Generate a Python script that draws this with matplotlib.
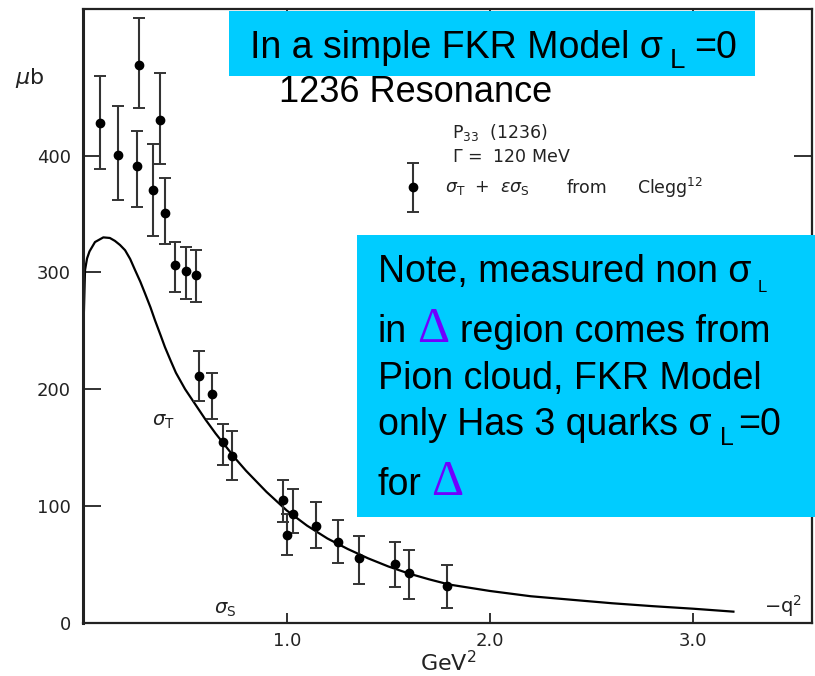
import matplotlib
matplotlib.use('Agg')
import matplotlib.pyplot as plt
from matplotlib.patches import Rectangle

# Clegg data: sigma_T + eps*sigma_S (microbarn) vs -q^2 (GeV^2)
q2 = [0.082, 0.169, 0.275, 0.265, 0.377, 0.341, 0.401, 0.451, 0.503, 0.554,
      0.569, 0.633, 0.689, 0.731, 0.980, 1.001, 1.029, 1.142, 1.254, 1.356,
      1.533, 1.602, 1.788]
sigma = [428, 401, 478, 391, 431, 371, 351, 306, 301, 298,
         211, 196, 155, 143, 105, 75, 93, 83, 69, 55,
         50, 42, 31]
err_up = [40, 42, 40, 30, 40, 39, 30, 20, 21, 21,
          22, 18, 15, 21, 17, 18, 21, 20, 19, 19,
          19, 20, 18]
err_down = [39, 39, 37, 35, 38, 40, 27, 23, 24, 23,
            21, 22, 20, 21, 19, 17, 16, 19, 18, 22,
            20, 22, 19]

# FKR model curve for sigma_T
curve_q2 = [0.0, 0.008, 0.018, 0.03, 0.057, 0.098, 0.13, 0.155, 0.18, 0.205,
            0.23, 0.254, 0.28, 0.303, 0.33, 0.352, 0.38, 0.401, 0.43, 0.455,
            0.5, 0.55, 0.6, 0.65, 0.7, 0.75, 0.8, 0.9, 1.0, 1.1,
            1.2, 1.3, 1.4, 1.5, 1.6, 1.7, 1.8, 2.0, 2.2, 2.4,
            2.6, 2.8, 3.0, 3.197]
curve_sigma = [250, 302, 312, 318, 326, 330, 329.5, 327, 323.5, 319,
               311.5, 302, 292, 282, 270, 259, 246, 236, 224, 214,
               200, 187, 174, 162, 151, 140, 130, 112, 96, 83,
               72, 63, 55, 48, 42, 37, 32.5, 27, 22.5, 19.5,
               16.5, 14, 11.8, 9.3]

xticks = [1.0, 2.0, 3.0]
xtick_labels = ['1.0', '2.0', '3.0']
yticks = [0, 100, 200, 300, 400]

W, H = 815, 676
ink = '#222222'

fig = plt.figure(figsize=(W / 100, H / 100), dpi=100)
ax = fig.add_axes([83.4 / W, 1 - 622.5 / H, (811.7 - 83.4) / W, (622.5 - 9) / H])

ax.plot(curve_q2, curve_sigma, color='black', lw=1.6, zorder=2)
ax.errorbar(q2, sigma, yerr=[err_down, err_up], fmt='o', color='black', ms=6,
            ecolor='#333333', elinewidth=1.5, capsize=4, capthick=1.4, zorder=3)

# legend symbol drawn like the original key
ax.errorbar([1.623], [373], yerr=[[21], [21]], fmt='o', color='black', ms=6,
            ecolor='#333333', elinewidth=1.5, capsize=4, capthick=1.4)

ax.set_xlim(0, 3.582)
ax.set_ylim(0, 525.7)
ax.set_xticks(xticks)
ax.set_xticklabels(xtick_labels)
ax.set_yticks(yticks)
ax.tick_params(axis='both', direction='in', top=True, right=True, colors=ink,
               labelsize=13, width=1.3)
ax.tick_params(axis='x', length=7, pad=7)
ax.tick_params(axis='y', length=13, pad=9)
for s in ax.spines.values():
    s.set_color(ink)
    s.set_linewidth(1.6)
ax.spines['left'].set_linewidth(2.2)

txt_kw = dict(color=ink, fontsize=12.5)
ax.text(1.813, 415, r'P$_{33}$  (1236)', **txt_kw)
ax.text(1.813, 395, r'$\Gamma$ =  120 MeV', **txt_kw)
ax.text(1.778, 372, r'$\sigma_{\rm T}$  +  $\epsilon\sigma_{\rm S}$', va='center', **txt_kw)
ax.text(2.379, 372, 'from', va='center', **txt_kw)
ax.text(2.723, 372, r'Clegg$^{12}$', va='center', **txt_kw)
ax.text(0.392, 172, r'$\sigma_{\rm T}$', ha='center', va='center', color=ink, fontsize=14)
ax.text(0.696, 11, r'$\sigma_{\rm S}$', ha='center', va='center', color=ink, fontsize=14)
ax.text(3.44, 14, r'$-$q$^2$', ha='center', va='center', color=ink, fontsize=14)


def ftext(px, py, s, **kw):
    kw.setdefault('va', 'baseline')
    kw.setdefault('zorder', 6)
    return fig.text(px / W, 1 - py / H, s, **kw)


ftext(30, 78, r'$\mu$b', ha='center', va='center', color=ink, fontsize=16)
ftext(448, 663, r'GeV$^2$', ha='center', va='center', color=ink, fontsize=16)

# overlay boxes
cyan = '#00CCFF'
fig.add_artist(Rectangle((229 / W, 1 - 76 / H), 526 / W, 65 / H, transform=fig.transFigure,
                         facecolor=cyan, edgecolor='none', zorder=5))
fig.add_artist(Rectangle((357 / W, 1 - 517 / H), 458 / W, 282 / H, transform=fig.transFigure,
                         facecolor=cyan, edgecolor='none', zorder=5))

sans = 'Liberation Sans'
delta_kw = dict(family='Liberation Serif', fontsize=36, color='#7000FF')
big = dict(family=sans, fontsize=27, color='black')

ftext(249.5, 58.3, 'In a simple FKR Model σ', **big)
ftext(670, 68, 'L', family=sans, fontsize=20)
ftext(694, 58.3, '=0', **big)

ftext(279, 101.7, '1236 Resonance', family=sans, fontsize=26)

ftext(378, 281.7, 'Note, measured non σ', **big)
ftext(758, 291.7, 'L', family=sans, fontsize=12)
ftext(378, 341.7, 'in', **big)
ftext(417, 341.7, 'Δ', **delta_kw)
ftext(460, 341.7, 'region comes from', **big)
ftext(378, 389.3, 'Pion cloud, FKR Model', **big)
ftext(378, 435, 'only Has 3 quarks σ', **big)
ftext(720, 445, 'L', family=sans, fontsize=18)
ftext(738, 435, '=0', **big)
ftext(378, 495, 'for', **big)
ftext(431, 495, 'Δ', **delta_kw)

fig.savefig('out.png', dpi=100)
